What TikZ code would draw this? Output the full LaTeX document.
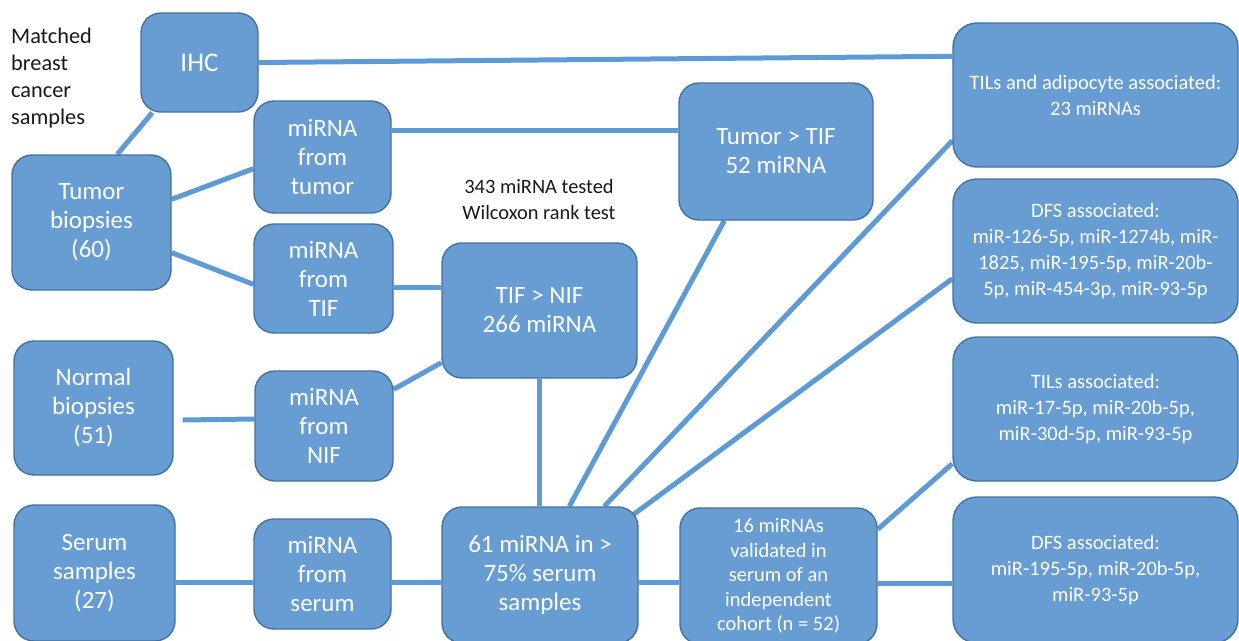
\documentclass[tikz,border=0pt]{standalone}
\usepackage{fontspec}
\setmainfont{Carlito}
\usetikzlibrary{calc,backgrounds}
\definecolor{boxfill}{RGB}{104,157,212}
\definecolor{boxline}{RGB}{66,113,158}
\definecolor{conn}{RGB}{94,154,212}
\tikzset{
  box/.style={draw=boxline, line width=1.4pt, fill=boxfill, rounded corners=20pt,
    text=white, align=center, inner sep=0pt, font=\fontsize{25}{29}\selectfont},
  rbox/.style={box, rounded corners=24pt, font=\fontsize{20.5}{26}\selectfont},
  link/.style={draw=conn, line width=5pt},
  note/.style={text=black!90, inner sep=0pt}
}
\begin{document}
\begin{tikzpicture}[x=1pt,y=-1pt]
\useasboundingbox (0,0) rectangle (1239,640);
\begin{scope}
\clip (0,0) rectangle (1239,640);
\node[note, anchor=west, align=left, font=\fontsize{22.3}{27}\selectfont] (title) at (11,78) {Matched\\breast\\cancer\\samples};
\node[note, align=center, font=\fontsize{20.4}{26}\selectfont] (test) at (539,199) {343 miRNA tested\\Wilcoxon rank test};
\node[box, minimum width=117pt, minimum height=99pt, font=\fontsize{27}{29}\selectfont] (ihc) at (199.5,62.5) {IHC};
\node[box, minimum width=159pt, minimum height=135pt] (tumor) at (91.5,222.5) {Tumor\\biopsies\\(60)};
\node[box, minimum width=137pt, minimum height=112pt] (mtum) at (322.5,157) {miRNA\\from\\tumor};
\node[box, minimum width=139pt, minimum height=109pt] (mtif) at (323.5,278.5) {miRNA\\from\\TIF};
\node[box, minimum width=159pt, minimum height=134pt] (normal) at (93.5,408) {Normal\\biopsies\\(51)};
\node[box, minimum width=138pt, minimum height=110pt] (mnif) at (324,426) {miRNA\\from\\NIF};
\node[box, minimum width=161pt, minimum height=136pt] (serum) at (94.5,573) {Serum\\samples\\(27)};
\node[box, minimum width=137pt, minimum height=110pt] (mser) at (322.5,574) {miRNA\\from\\serum};
\node[box, minimum width=195pt, minimum height=135pt] (tifnif) at (539.5,310.5) {TIF > NIF\\266 miRNA};
\node[box, minimum width=194pt, minimum height=137pt] (tumtif) at (776,151.5) {Tumor > TIF\\52 miRNA};
\node[box, minimum width=196pt, minimum height=136pt] (m61) at (540,575) {61 miRNA in >\\75\% serum\\samples};
\node[box, minimum width=197pt, minimum height=136pt, font=\fontsize{20.5}{24.5}\selectfont] (m16) at (778.5,576) {16 miRNAs\\validated in\\serum of an\\independent\\cohort (n = 52)};
\node[rbox, minimum width=285pt, minimum height=144pt] (tilsadip) at (1095.5,95) {TILs and adipocyte  associated:\\23 miRNAs};
\node[rbox, minimum width=285pt, minimum height=144pt] (dfs7) at (1095.5,251) {DFS associated:\\miR-126-5p, miR-1274b, miR-\\1825, miR-195-5p, miR-20b-\\5p, miR-454-3p, miR-93-5p};
\node[rbox, minimum width=285pt, minimum height=144pt] (tilsassoc) at (1095.5,409) {TILs associated:\\miR-17-5p, miR-20b-5p,\\miR-30d-5p, miR-93-5p};
\node[rbox, minimum width=285pt, minimum height=146pt] (dfs3) at (1095.5,570) {DFS associated:\\miR-195-5p, miR-20b-5p,\\miR-93-5p};
\end{scope}
\begin{scope}[on background layer]
\draw[link] (ihc.east) -- ([yshift=-34pt]tilsadip.north west);
\draw[link] ([xshift=12pt]ihc.south west) -- ([xshift=106pt]tumor.north west);
\draw[link] ([yshift=-45pt]tumor.north east) -- ([yshift=45pt]mtum.south west);
\draw[link] ([yshift=38pt]tumor.south east) -- ([yshift=-61pt]mtif.north west);
\draw[link] ([yshift=-30pt]mtum.north east) -- ([yshift=-48pt]tumtif.north west);
\draw[link] ([yshift=-64pt]mtif.north east) -- ([yshift=-45pt]tifnif.north west);
\draw[link] ([yshift=-19pt]mnif.north east) -- ([yshift=16pt]tifnif.south west);
\draw[link] ([xshift=9pt,yshift=-12pt]normal.east) -- ([yshift=7pt]mnif.west);
\draw[link] ([yshift=-9pt]serum.east) -- ([yshift=-8pt]mser.west);
\draw[link] ([yshift=-8pt]mser.east) -- ([yshift=-7pt]m61.west);
\draw[link] (tifnif.south) -- (tifnif.south |- m61.north);
\draw[link] ([xshift=46pt]tumtif.south west) -- ([xshift=128pt]m61.north west);
\draw[link] ([yshift=27pt]tilsadip.south west) -- ([xshift=163pt]m61.north west);
\draw[link] ([yshift=45pt]dfs7.south west) -- ([xshift=-5pt,yshift=-8pt]m61.north east);
\draw[link] ([yshift=-7pt]m61.east) -- ([yshift=-6pt]m16.west);
\draw[link] ([yshift=-22pt]m16.north east) -- ([yshift=18pt]tilsassoc.south west);
\draw[link] ([yshift=-7pt]m16.east) -- ([yshift=-13pt]dfs3.west);
\end{scope}
\end{tikzpicture}
\end{document}
